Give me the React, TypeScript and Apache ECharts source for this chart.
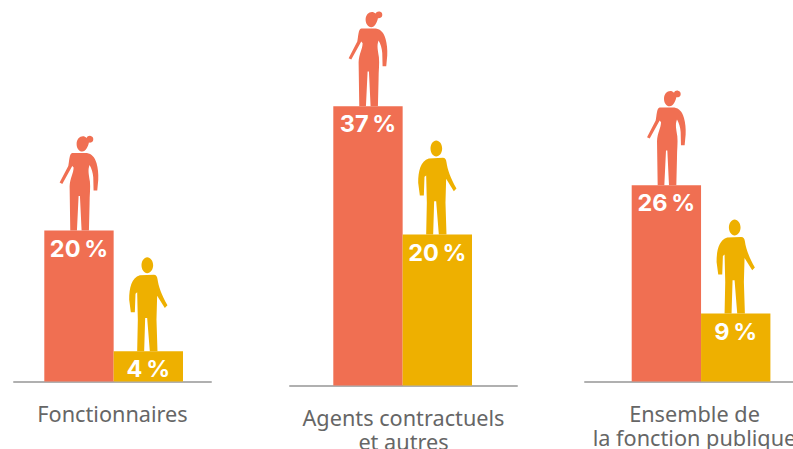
import React, { useEffect, useRef } from "react";
import * as echarts from "echarts";

const panelLabels = ["Fonctionnaires", "Agents contractuels\net autres", "Ensemble de\nla fonction publique"];
const groups = ["Femmes", "Hommes"];
const fonctionnaires = [20, 4];
const contractuels = [37, 20];
const ensemble = [26, 9];

const CORAL = "#F06F52";
const GOLD = "#EEB000";
const AXIS = "#B0B0B0";
const TEXT = "#666666";

const WOMAN =
  "path://M231 72C231 58 240 49 250 49C254 49 258 51 261 54C263 49 268 47 273 48C279 49 282 54 281 60C280 66 274 69 268 68C266 80 258 95 248 95C238 95 231 84 231 72ZM218 99L262 99C276 101 286 112 291 130C295 145 297 160 296 180L293 212L282 212L281 172C280 158 276 145 270 135C264 150 268 165 271 185C273 205 270 225 270 250L268 332L246 332L241 228L237 228L232 332L212 332L210 200C211 175 222 160 222 143L218 138L188 192L180 188L206 138C209 125 209 100 218 99Z";
const MAN =
  "path://M425 437C425 424 433 413 442 413C452 413 460 424 460 437C460 450 452 461 442 461C433 461 425 450 425 437ZM420 467L462 465C469 465 472 470 473 478C476 500 485 525 503 557L495 565L472 528L470 600L473 695L450 695L442 595L436 595L433 695L412 695L414 600L412 518L407 522L405 578L393 578L388 540C388 505 395 475 420 467Z";

const panels = [
  { values: fonctionnaires, barLeft: 44.3, baseline: 381.5, lineLeft: 14, lineRight: 211, margin: 19.5 },
  { values: contractuels, barLeft: 333.3, baseline: 385.5, lineLeft: 290, lineRight: 517, margin: 20 },
  { values: ensemble, barLeft: 631.7, baseline: 381.5, lineLeft: 585, lineRight: 804, margin: 19.5 },
];

const BAR_BLOCK = 138.7;
const PX_PER_UNIT = 7.55;
const MAX = 40;

function buildOption() {
  const grid: any[] = [];
  const xAxis: any[] = [];
  const yAxis: any[] = [];
  const series: any[] = [];
  panels.forEach((p, i) => {
    const height = MAX * PX_PER_UNIT;
    const top = p.baseline - height;
    const barIdx = grid.length;
    grid.push({ left: p.barLeft, top, width: BAR_BLOCK, height, outerBoundsMode: "none" });
    xAxis.push({ type: "category", gridIndex: barIdx, data: groups, show: false });
    yAxis.push({ type: "value", gridIndex: barIdx, min: 0, max: MAX, show: false });
    series.push({
      type: "bar",
      xAxisIndex: barIdx,
      yAxisIndex: barIdx,
      barWidth: "100%",
      barGap: 0,
      data: p.values.map((v, k) => ({ value: v, itemStyle: { color: k === 0 ? CORAL : GOLD } })),
      label: {
        show: true,
        position: "insideTop",
        distance: 5.5,
        formatter: (d: any) => `${d.value}\u202F%`,
        color: "#FFFFFF",
        fontFamily: "Inter",
        fontWeight: 700,
        fontSize: 23.5,
      },
    });
    series.push({
      type: "scatter",
      xAxisIndex: barIdx,
      yAxisIndex: barIdx,
      silent: true,
      data: [
        { value: [groups[0], p.values[0]], symbol: WOMAN, symbolSize: [38.7, 94.7], symbolOffset: [0, -47.3], itemStyle: { color: CORAL, opacity: 1 } },
        { value: [groups[1], p.values[1]], symbol: MAN, symbolSize: [38.3, 94], symbolOffset: [0, -47], itemStyle: { color: GOLD, opacity: 1 } },
      ],
    });
    const lineIdx = grid.length;
    grid.push({ left: p.lineLeft, width: p.lineRight - p.lineLeft, top: p.baseline - 10, height: 10, outerBoundsMode: "none" });
    xAxis.push({
      type: "category",
      gridIndex: lineIdx,
      data: [panelLabels[i]],
      axisLine: { show: true, lineStyle: { color: AXIS, width: 2 } },
      axisTick: { show: false },
      axisLabel: {
        interval: 0,
        margin: p.margin,
        color: TEXT,
        fontFamily: "Noto Sans",
        fontSize: 21.7,
        lineHeight: 24,
        align: "center",
      },
    });
    yAxis.push({ type: "value", gridIndex: lineIdx, min: 0, max: 1, show: false });
  });
  return { animation: false, backgroundColor: "#FFFFFF", grid, xAxis, yAxis, series };
}

export default function App() {
  const ref = useRef<HTMLDivElement>(null);
  useEffect(() => {
    document.body.style.margin = "0";
    const chart = echarts.init(ref.current!, undefined, { renderer: "svg" });
    chart.setOption(buildOption());
    return () => chart.dispose();
  }, []);
  return <div ref={ref} style={{ width: 793, height: 449, overflow: "hidden" }} />;
}
